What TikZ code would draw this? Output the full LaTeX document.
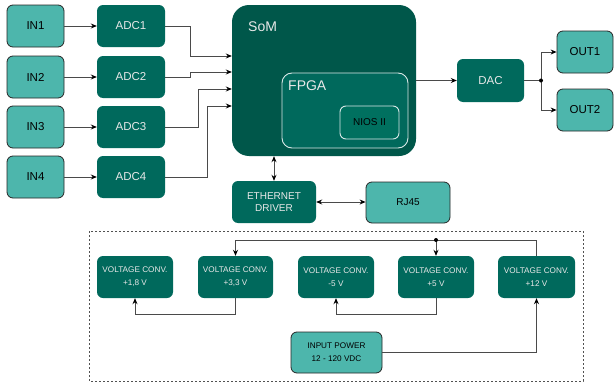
\documentclass[tikz,border=0pt]{standalone}
\usepackage{fontspec}
\setmainfont{Liberation Sans}
\usetikzlibrary{arrows.meta,calc}
\definecolor{lightteal}{HTML}{4DB6AC}
\definecolor{darkteal}{HTML}{00695C}
\definecolor{somcol}{HTML}{00574A}
\definecolor{niocol}{HTML}{00705F}
\definecolor{linec}{HTML}{4A4A4A}
\definecolor{boxline}{HTML}{262626}
\definecolor{lighttext}{HTML}{E8E8E8}
\tikzset{
  lbox/.style={draw=boxline, fill=lightteal, rounded corners=6pt, line width=0.8pt, text=black, font=\fontsize{11.5}{13}\selectfont, inner sep=0pt},
  dbox/.style={fill=darkteal, draw=none, rounded corners=6pt, text=lighttext, font=\fontsize{11.5}{13}\selectfont, inner sep=0pt},
  small/.style={font=\fontsize{10}{12.3}\selectfont, align=center},
  tiny/.style={font=\fontsize{8.2}{12.7}\selectfont, align=center},
  conn/.style={draw=linec, line width=0.9pt},
  arr/.style={conn, -{Stealth[length=6pt,width=5pt,black]}},
  darr/.style={conn, {Stealth[length=6pt,width=5pt,black]}-{Stealth[length=6pt,width=5pt,black]}},
}
\begin{document}
\begin{tikzpicture}[x=1pt,y=-1pt]
\useasboundingbox[fill=white] (0,0) rectangle (614,383);
% inputs
\node[lbox, minimum width=57pt, minimum height=42pt] (in1) at (35.5,26) {IN1};
\node[lbox, minimum width=57pt, minimum height=42pt] (in2) at (35.5,77) {IN2};
\node[lbox, minimum width=57pt, minimum height=42pt] (in3) at (35.5,127) {IN3};
\node[lbox, minimum width=57pt, minimum height=42pt] (in4) at (35.5,177) {IN4};
% ADCs
\node[dbox, minimum width=68pt, minimum height=42pt] (adc1) at (131,26) {ADC1};
\node[dbox, minimum width=68pt, minimum height=42pt] (adc2) at (131,77) {ADC2};
\node[dbox, minimum width=68pt, minimum height=42pt] (adc3) at (131,127) {ADC3};
\node[dbox, minimum width=68pt, minimum height=42pt] (adc4) at (131,177) {ADC4};
% SoM
\node[fill=somcol, rounded corners=17pt, minimum width=184pt, minimum height=151pt, inner sep=0pt] (som) at (324,80.5) {};
\node[anchor=west, text=lighttext, font=\fontsize{14}{16}\selectfont, inner sep=0pt] (somlbl) at (248,27) {SoM};
\node[fill=darkteal, draw=white!85!darkteal, line width=0.9pt, rounded corners=10pt, minimum width=126pt, minimum height=75pt, inner sep=0pt] (fpga) at (345,110.5) {};
\node[anchor=west, text=lighttext, font=\fontsize{14}{16}\selectfont, inner sep=0pt] (fpgalbl) at (288,86) {FPGA};
\node[fill=niocol, draw=white!85!darkteal, line width=0.9pt, rounded corners=6pt, minimum width=59pt, minimum height=33pt, inner sep=0pt, text=black, small] (nios) at (369.5,122.5) {NIOS II};
% DAC and outputs
\node[dbox, minimum width=67pt, minimum height=43pt] (dac) at (490.5,80.5) {DAC};
\node[lbox, minimum width=56pt, minimum height=42pt] (out1) at (585,52) {OUT1};
\node[lbox, minimum width=56pt, minimum height=42pt] (out2) at (585,110) {OUT2};
% Ethernet
\node[dbox, small, minimum width=84pt, minimum height=42pt] (eth) at (274,202) {ETHERNET\\DRIVER};
\node[lbox, small, minimum width=84pt, minimum height=41pt] (rj45) at (408,202.5) {RJ45};
% power section
\draw[draw=boxline!80, line width=0.8pt, dash pattern=on 2pt off 2pt] (89,231) rectangle (583,381);
\node[dbox, tiny, minimum width=76pt, minimum height=42pt] (vc1) at (135,277) {VOLTAGE CONV.\\+1,8 V};
\node[dbox, tiny, minimum width=75pt, minimum height=42pt] (vc2) at (235.5,277) {VOLTAGE CONV.\\+3,3 V};
\node[dbox, tiny, minimum width=76pt, minimum height=42pt] (vc3) at (336,277) {VOLTAGE CONV.\\-5 V};
\node[dbox, tiny, minimum width=76pt, minimum height=42pt] (vc4) at (436,277) {VOLTAGE CONV.\\+5 V};
\node[dbox, tiny, minimum width=77pt, minimum height=42pt] (vc5) at (536.5,277) {VOLTAGE CONV.\\+12 V};
\node[lbox, tiny, minimum width=91pt, minimum height=41pt] (inp) at (336.5,352.5) {INPUT POWER\\12 - 120 VDC};
% connectors
\draw[arr] (in1.east) -- (adc1.west);
\draw[arr] (in2.east) -- (adc2.west);
\draw[arr] (in3.east) -- (adc3.west);
\draw[arr] (in4.east) -- (adc4.west);
\draw[arr] (adc1.east) -- ++(25,0) |- (som.west |- 0,56);
\draw[arr] (adc2.east) -- ++(25,0) |- (som.west |- 0,72);
\draw[arr] (adc3.east) -- ++(33,0) |- (som.west |- 0,89);
\draw[arr] (adc4.east) -- ++(42,0) |- (som.west |- 0,106);
\draw[arr] (som.east) -- (dac.west);
\coordinate (split) at (541,80.5);
\draw[conn] (dac.east) -- (split);
\draw[arr] (split) |- (out1.west);
\draw[arr] (split) |- (out2.west);
\fill[black] (split) circle (2pt);
\draw[darr] (eth.north |- som.south) -- (eth.north);
\draw[darr] (eth.east) -- (eth.east -| rj45.west);
\coordinate (pdot) at (436,240);
\draw[conn] (vc5.north) |- (pdot);
\draw[arr] (pdot) -| (vc2.north);
\draw[arr] (pdot) -- (vc4.north);
\fill[black] (pdot) circle (2pt);
\draw[arr] (vc2.south) -- ++(0,16) -| (vc1.south);
\draw[arr] (vc4.south) -- ++(0,16) -| (vc3.south);
\draw[arr] (inp.east) -| (vc5.south);
\end{tikzpicture}
\end{document}
